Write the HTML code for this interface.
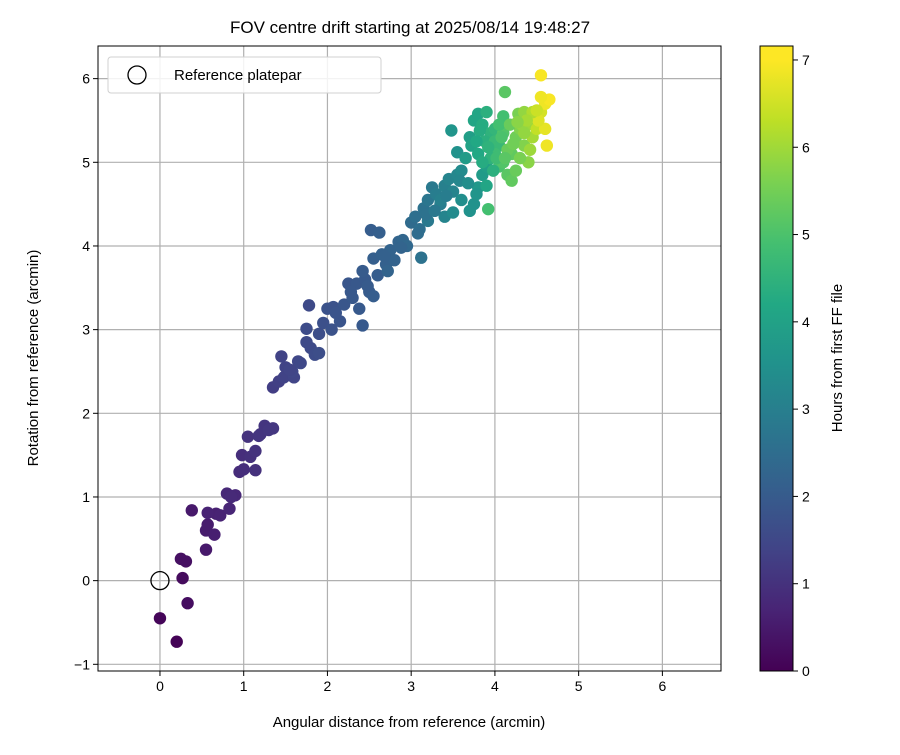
<!DOCTYPE html>
<html><head><meta charset="utf-8"><style>
body{margin:0;background:#fff;}
svg text{font-family:"Liberation Sans","DejaVu Sans",sans-serif;fill:#000;}
</style></head><body>
<svg id="chart" width="900" height="750" xmlns="http://www.w3.org/2000/svg">
<defs><linearGradient id="vir" x1="0" y1="1" x2="0" y2="0"></linearGradient></defs>
<text x="410" y="33" font-size="17" text-anchor="middle">FOV centre drift starting at 2025/08/14 19:48:27</text>
<g id="grid"></g><g id="pts"></g><g id="axes"></g>
</svg>
<script>
const xs=[0.0,0.2,0.27,0.33,0.25,0.31,0.38,0.55,0.55,0.57,0.65,0.67,0.57,0.72,0.83,0.8,0.9,0.85,0.95,1.0,0.98,1.08,1.14,1.14,1.05,1.18,1.25,1.35,1.2,1.3,
1.35,1.42,1.48,1.5,1.45,1.6,1.65,1.58,1.75,1.8,1.85,1.9,1.75,1.78,1.9,1.95,2.0,2.07,2.05,2.15,2.2,2.25,2.3,2.35,2.38,2.42,2.45,2.5,2.42,2.55,2.6,2.55,2.52,2.62,2.65,2.7,2.75,2.8,2.85,2.9,2.95,2.72,
3.0,3.05,3.1,3.12,3.15,3.2,3.25,3.3,3.35,3.4,3.45,3.5,3.55,3.6,3.4,3.5,3.6,3.7,3.75,3.8,3.85,3.9,3.55,3.48,3.35,3.2,3.65,
3.7,3.75,3.8,3.85,3.9,3.95,3.72,3.8,3.88,4.0,4.05,4.1,4.12,3.92,4.05,4.1,4.15,4.2,4.2,4.25,4.28,4.3,4.35,4.35,4.4,4.4,4.45,4.48,4.5,4.55,4.55,4.6,4.65,4.6,4.62,4.55,4.52,4.0,3.95,4.0,4.15,4.3,4.25,3.82,4.1,3.85,4.05,4.45,4.35,
1.55,1.68,2.1,2.28,2.48,2.68,2.88,3.08,3.18,3.28,3.42,3.58,3.68,3.78,3.9,3.98,4.08,4.18,4.22,4.32,4.38,4.42,4.5,3.78,3.92,4.02,4.12,4.27];
const ys=[-0.45,-0.73,0.03,-0.27,0.26,0.23,0.84,0.37,0.6,0.67,0.55,0.8,0.81,0.78,0.86,1.04,1.02,1.0,1.3,1.33,1.5,1.48,1.32,1.55,1.72,1.73,1.85,1.82,1.75,1.8,
2.31,2.38,2.43,2.55,2.68,2.43,2.62,2.5,2.85,2.78,2.7,2.72,3.01,3.29,2.95,3.08,3.25,3.27,3.0,3.1,3.3,3.55,3.38,3.55,3.25,3.05,3.6,3.45,3.7,3.4,3.65,3.85,4.19,4.16,3.9,3.78,3.95,3.83,4.05,4.07,4.0,3.7,
4.28,4.35,4.2,3.86,4.45,4.55,4.7,4.62,4.5,4.72,4.8,4.65,4.85,4.9,4.35,4.4,4.55,4.42,4.5,4.7,4.85,4.95,5.12,5.38,4.55,4.3,5.05,
5.3,5.5,5.58,5.45,5.6,5.35,5.2,5.1,5.25,5.4,5.2,5.55,5.84,4.44,4.95,5.0,4.85,4.78,5.1,5.3,5.58,5.4,5.2,5.6,5.0,5.45,5.3,5.55,5.4,5.6,6.04,5.7,5.75,5.4,5.2,5.78,5.5,5.1,5.05,5.25,5.15,5.05,4.9,5.38,5.35,5.0,5.45,5.6,5.35,
2.52,2.6,3.2,3.45,3.52,3.88,3.98,4.15,4.38,4.42,4.6,4.78,4.75,4.62,4.72,4.9,5.3,5.45,5.22,5.45,5.5,5.15,5.62,5.25,5.18,5.05,5.05,5.48];
const hours=[0.1,0.05,0.2,0.25,0.3,0.3,0.5,0.5,0.55,0.55,0.6,0.65,0.7,0.7,0.75,0.8,0.8,0.85,0.9,0.95,0.95,1.0,1.0,1.05,1.05,1.1,1.1,1.15,1.1,1.15,
1.3,1.35,1.4,1.4,1.4,1.45,1.5,1.5,1.6,1.6,1.65,1.7,1.65,1.6,1.7,1.75,1.8,1.8,1.8,1.85,1.9,1.9,1.95,1.95,2.0,2.0,2.0,2.05,2.05,2.1,2.1,2.15,2.1,2.15,2.2,2.2,2.25,2.25,2.3,2.35,2.4,2.3,
2.5,2.6,2.6,2.7,2.7,2.8,2.9,3.0,3.0,3.1,3.2,3.2,3.3,3.4,3.2,3.4,3.5,3.6,3.6,3.8,3.9,4.0,3.6,3.7,3.1,2.9,3.9,
4.0,4.2,4.2,4.4,4.5,4.6,4.1,4.3,4.5,4.7,4.8,5.0,5.3,5.0,5.1,5.2,5.3,5.4,5.4,5.6,5.7,5.8,5.8,6.0,5.9,6.1,6.2,6.4,6.5,6.7,7.1,7.0,7.1,6.9,7.0,7.0,6.8,4.9,4.6,4.8,5.5,5.7,5.5,4.4,5.2,4.4,5.0,6.3,6.0,
1.45,1.55,1.85,1.95,2.05,2.2,2.3,2.55,2.7,2.85,3.0,3.3,3.5,3.7,4.2,4.5,5.1,5.5,5.6,6.0,6.2,6.1,6.6,4.3,4.6,4.9,5.3,5.9];
const xTicks=[0,1,2,3,4,5,6];
const yTicks=[-1,0,1,2,3,4,5,6];
const cTicks=[0,1,2,3,4,5,6,7];
const xMin=-0.74,xMax=6.7,yMin=-1.08,yMax=6.39,cMax=7.16;
const L=98,R=721,T=46,B=671,CL=760,CR=793;
const X=v=>L+(v-xMin)/(xMax-xMin)*(R-L);
const Y=v=>B-(v-yMin)/(yMax-yMin)*(B-T);
const C=v=>B-v/cMax*(B-T);
const vir=["#440154","#482475","#414487","#355f8d","#2a788e","#21918c","#22a884","#44bf70","#7ad151","#bddf26","#fde725"];
function hex(h){return [1,3,5].map(i=>parseInt(h.substr(i,2),16));}
function cmap(t){t=Math.max(0,Math.min(1,t));const f=t*10,i=Math.min(9,Math.floor(f)),r=f-i;const a=hex(vir[i]),b=hex(vir[i+1]);return "rgb("+a.map((v,k)=>Math.round(v+(b[k]-v)*r)).join(",")+")";}
const NS="http://www.w3.org/2000/svg";
function mk(tag,attrs,parent,text){const e=document.createElementNS(NS,tag);for(const k in attrs)e.setAttribute(k,attrs[k]);if(text!==undefined)e.textContent=text;parent.appendChild(e);return e;}
const svg=document.getElementById('chart'),grid=document.getElementById('grid'),pts=document.getElementById('pts'),axes=document.getElementById('axes');
const grad=document.getElementById('vir');
vir.forEach((c,i)=>{mk('stop',{offset:(i/10*7/cMax),'stop-color':c},grad);});
mk('stop',{offset:1,'stop-color':vir[10]},grad);
xTicks.forEach(v=>{
 const g=mk('line',{x1:X(v),x2:X(v),y1:T,y2:B,stroke:'#b0b0b0','stroke-width':1.2},grid);
 
 
 mk('line',{x1:X(v),x2:X(v),y1:B,y2:B+5,stroke:'#000'},axes);
 const t=mk('text',{x:X(v),y:B+20,'font-size':14,'text-anchor':'middle'},axes,String(v));
 
 
});
yTicks.forEach(v=>{
 const g=mk('line',{x1:L,x2:R,y1:Y(v),y2:Y(v),stroke:'#b0b0b0','stroke-width':1.2},grid);
 
 
 mk('line',{x1:L-5,x2:L,y1:Y(v),y2:Y(v),stroke:'#000'},axes);
 const t=mk('text',{x:L-8,y:Y(v)+5,'font-size':14,'text-anchor':'end'},axes,v<0?'\u2212'+Math.abs(v):String(v));
 
 
});
xs.forEach((x,i)=>{
 const c=mk('circle',{cx:X(x),cy:Y(ys[i]),r:6.2,fill:cmap(hours[i]/cMax)},pts);
 
 
});
const ref=mk('circle',{cx:X(0),cy:Y(0),r:9,fill:'none',stroke:'#000','stroke-width':1.3},pts);


const frame=mk('rect',{x:L,y:T,width:R-L,height:B-T,fill:'none',stroke:'#000','stroke-width':1},axes);


const lg=mk('g',{},axes);


mk('rect',{x:108,y:57,width:273,height:36,rx:3,fill:'#fff','fill-opacity':0.85,stroke:'#d0d0d0'},lg);
mk('circle',{cx:137,cy:75,r:9,fill:'none',stroke:'#000','stroke-width':1.3},lg);
const lt=mk('text',{x:174,y:80,'font-size':15},lg,'Reference platepar');


const xl=mk('text',{x:409,y:727,'font-size':15,'text-anchor':'middle'},axes,'Angular distance from reference (arcmin)');


const yl=mk('text',{x:38,y:358,'font-size':15,'text-anchor':'middle',transform:'rotate(-90 38 358)'},axes,'Rotation from reference (arcmin)');


const cb=mk('rect',{x:CL,y:T,width:CR-CL,height:B-T,fill:'url(#vir)',stroke:'#000','stroke-width':1},axes);


cTicks.forEach(v=>{
 mk('line',{x1:CR,x2:CR+5,y1:C(v),y2:C(v),stroke:'#000'},axes);
 const t=mk('text',{x:CR+9,y:C(v)+5,'font-size':14},axes,String(v));
 
 
});
const cl=mk('text',{x:842,y:358,'font-size':15,'text-anchor':'middle',transform:'rotate(-90 842 358)'},axes,'Hours from first FF file');


</script>
</body></html>
